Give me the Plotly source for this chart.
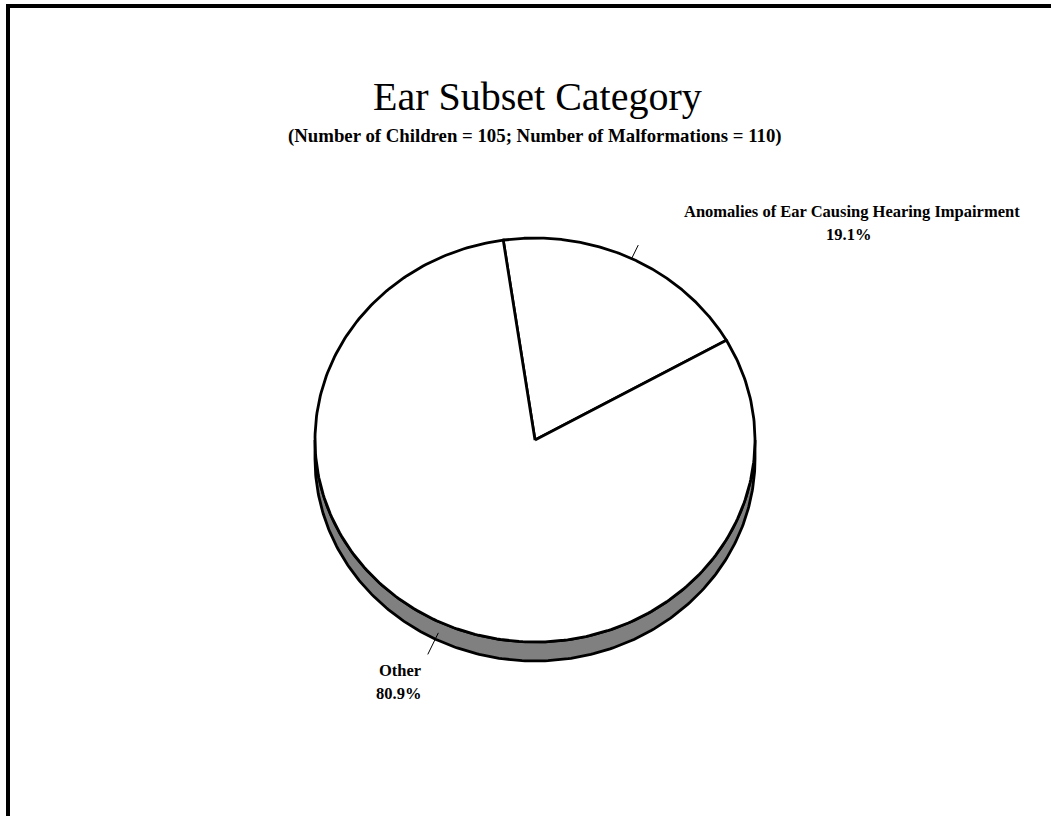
import numpy as np
import plotly.graph_objects as go

# ---- data -------------------------------------------------------------
categories = ["Anomalies of Ear Causing Hearing Impairment", "Other"]
counts = [21, 89]                      # malformations per category
title_text = "Ear Subset Category"
subtitle_text = "(Number of Children = 105; Number of Malformations = 110)"

# ---- page / pie geometry (pixel space) ----------------------------------
W, H = 1051, 816
CX, CY = 535, 440          # centre of the pie's top face
RX, RY = 220, 202          # tilted (elliptical) radii
DEPTH = 19                 # thickness of the pie edge
START = -8.3               # first slice edge, degrees clockwise from 12 o'clock
EDGE_W = 2.8
SERIF = "Liberation Serif, Times New Roman, serif"

shares = np.array(counts, dtype=float) / sum(counts)
bounds = START + 360.0 * np.concatenate([[0.0], np.cumsum(shares)])


def ellipse_pt(phi_deg, drop=0.0):
    phi = np.radians(phi_deg)
    return CX + RX * np.sin(phi), CY - RY * np.cos(phi) + drop


fig = go.Figure()

# visible side wall of the pie (front half, from 3 o'clock round to 9 o'clock)
phis = np.linspace(90, 270, 240)
tx, ty = ellipse_pt(phis)
bx, by = ellipse_pt(phis[::-1], DEPTH)
fig.add_trace(go.Scatter(
    x=np.concatenate([tx, bx, tx[:1]]), y=np.concatenate([ty, by, ty[:1]]),
    mode="lines", fill="toself", fillcolor="#808080",
    line=dict(color="black", width=EDGE_W), hoverinfo="skip"))

# top face slices
for i, name in enumerate(categories):
    arc = np.linspace(bounds[i], bounds[i + 1], 300)
    ax_, ay_ = ellipse_pt(arc)
    fig.add_trace(go.Scatter(
        x=np.concatenate([[CX], ax_, [CX]]), y=np.concatenate([[CY], ay_, [CY]]),
        mode="lines", fill="toself", fillcolor="white",
        line=dict(color="black", width=EDGE_W, shape="linear"),
        name=name, hoverinfo="skip"))

# leader lines from each slice's mid-angle outward
LEADER_LEN = [15, 24]
for i in range(len(categories)):
    mid = (bounds[i] + bounds[i + 1]) / 2.0
    r = np.radians(mid)
    drop = DEPTH * 0.6 if np.cos(r) < 0 else 0.0
    sx, sy = ellipse_pt(mid, drop)
    ux, uy = np.sin(r), -np.cos(r)
    n = np.hypot(ux, uy)
    ex, ey = sx + ux / n * LEADER_LEN[i], sy + uy / n * LEADER_LEN[i]
    fig.add_trace(go.Scatter(x=[sx, ex], y=[sy, ey], mode="lines",
                             line=dict(color="black", width=1), hoverinfo="skip"))

# slice labels: name on the first line, share below it
LABEL_POS = [((852, 211), (848, 234)), ((400, 670), (398, 693))]
LABEL_SIZE = 16.5
annotations = []
for i, name in enumerate(categories):
    (nx, ny), (px, py) = LABEL_POS[i]
    annotations.append(dict(x=nx, y=ny, text=f"<b>{name}</b>", showarrow=False,
                            xanchor="center", yanchor="middle",
                            font=dict(family=SERIF, size=LABEL_SIZE, color="black")))
    annotations.append(dict(x=px, y=py, text=f"<b>{100 * shares[i]:.1f}%</b>",
                            showarrow=False, xanchor="center", yanchor="middle",
                            font=dict(family=SERIF, size=LABEL_SIZE, color="black")))

annotations.append(dict(x=537, y=96, text=title_text, showarrow=False,
                        xanchor="center", yanchor="middle",
                        font=dict(family=SERIF, size=40, color="black")))
annotations.append(dict(x=535, y=136, text=f"<b>{subtitle_text}</b>", showarrow=False,
                        xanchor="center", yanchor="middle",
                        font=dict(family=SERIF, size=18.8, color="black")))

fig.update_layout(
    width=W, height=H, autosize=False,
    margin=dict(l=0, r=0, t=0, b=0, pad=0),
    paper_bgcolor="white", plot_bgcolor="white",
    showlegend=False,
    xaxis=dict(range=[0, W], visible=False, fixedrange=True),
    yaxis=dict(range=[H, 0], visible=False, fixedrange=True),
    annotations=annotations,
    shapes=[dict(type="rect", xref="x", yref="y", x0=8, y0=6, x1=W + 30, y1=H + 30,
                 line=dict(color="black", width=4), fillcolor="rgba(0,0,0,0)",
                 layer="below")],
)

fig.write_html("out.html")
